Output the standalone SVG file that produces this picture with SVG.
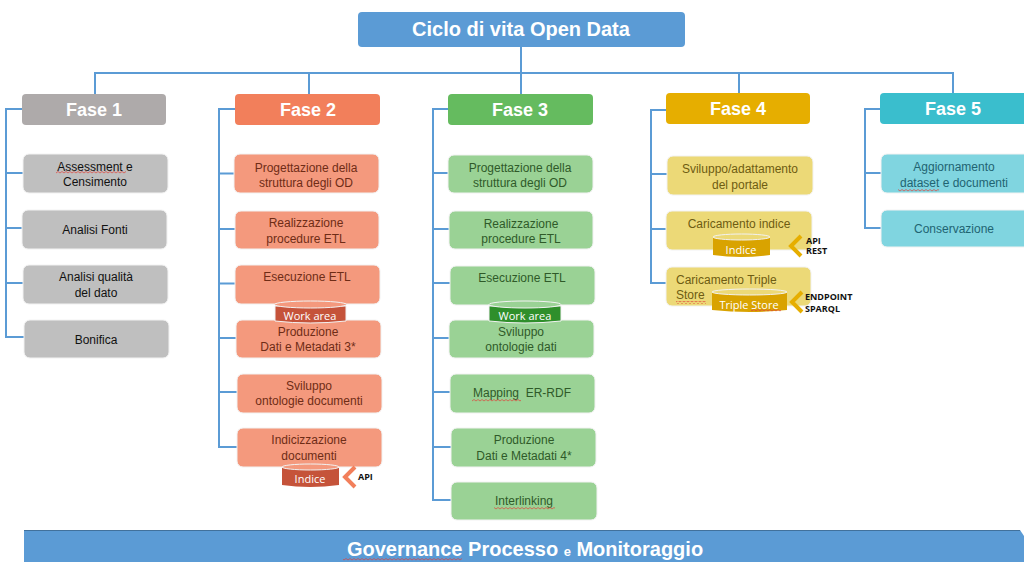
<svg xmlns="http://www.w3.org/2000/svg" width="1024" height="562" viewBox="0 0 1024 562">
<style>
text{font-family:"Liberation Sans",Arial,sans-serif;text-anchor:middle}
.conn{fill:none;stroke:#5b9bd5;stroke-width:2}
.ph{font-size:18px;font-weight:bold;fill:#fff}
.c{font-size:12px}
.b{stroke:#f2f2f2;stroke-width:1}
.g{fill:#bfbfbf}.gt{fill:#111}
.o{fill:#f4997d}.ot{fill:#6f2c16}
.n{fill:#9ad295}.nt{fill:#2f5a29}
.y{fill:#ecd977}.yt{fill:#6e5c12}
.t{fill:#80d5e0}.tt{fill:#1f6472}
.cyl{font-size:11px;fill:#fff;font-family:"Open Sans",sans-serif}
.lab{font-size:9px;font-weight:bold;fill:#111;font-family:"Open Sans",sans-serif;text-anchor:start}
.chev{fill:none;stroke-width:4}
</style>
<defs>
<pattern id="sq" width="4" height="3" patternUnits="userSpaceOnUse"><path d="M0 2L2 .5L4 2" fill="none" stroke="#e0403a" stroke-width=".7"/></pattern>
</defs>
<g id="connectors" class="conn">
<path d="M521 47V73M95 94V73H953V93M309 73V94M521 73V94M739 73V93"/>
<path d="M22 109H6V337H24M6 173H23M6 228H22M6 283H23"/>
<path d="M235 109H219V447H237M219 173.500H234M219 229H235M219 283.500H235M219 338H236M219 392H237"/>
<path d="M448 109H433V500H451M433 173H448M433 229H449M433 283H450M433 338H449M433 392H450M433 447H451"/>
<path d="M666 110H651V283H666M651 174H667M651 229H666"/>
<path d="M880 109H865V228H881M865 173H881"/>
</g>
<g id="title"><rect x="358" y="12" width="327" height="35" rx="4" fill="#5b9bd5"/><text x="521" y="36" font-size="20" font-weight="bold" fill="#fff">Ciclo di vita Open Data</text></g>
<g id="fase1"><rect x="22" y="94" width="144" height="31" rx="4" fill="#aeaaaa"/><text class="ph" x="94" y="116">Fase 1</text></g>
<g id="fase2"><rect x="235" y="94" width="145" height="31" rx="4" fill="#f27f5b"/><text class="ph" x="308" y="116">Fase 2</text></g>
<g id="fase3"><rect x="448" y="94" width="145" height="31" rx="4" fill="#65bb5f"/><text class="ph" x="520" y="116">Fase 3</text></g>
<g id="fase4"><rect x="666" y="93" width="144" height="31" rx="4" fill="#e6ae00"/><text class="ph" x="738" y="115">Fase 4</text></g>
<g id="fase5"><rect x="880" y="93" width="150" height="31" rx="4" fill="#3abecd"/><text class="ph" x="953" y="115">Fase 5</text></g>

<g id="f1-assessment"><rect class="g b" x="23" y="154" width="145" height="39" rx="6"/><text class="c gt"><tspan x="95" y="171">Assessment e</tspan><tspan x="95" y="186">Censimento</tspan></text><rect x="56" y="171" width="70" height="3" fill="url(#sq)"/></g>
<g id="f1-fonti"><rect class="g b" x="22" y="210" width="145" height="39" rx="6"/><text class="c gt" x="95" y="234">Analisi Fonti</text></g>
<g id="f1-qualita"><rect class="g b" x="23" y="265" width="145" height="39" rx="6"/><text class="c gt"><tspan x="96" y="281">Analisi qualità</tspan><tspan x="96" y="297">del dato</tspan></text></g>
<g id="f1-bonifica"><rect class="g b" x="24" y="320" width="145" height="38" rx="6"/><text class="c gt" x="96" y="344">Bonifica</text></g>

<g id="f2-progettazione"><rect class="o b" x="234" y="154" width="145" height="39" rx="6"/><text class="c ot"><tspan x="306" y="172">Progettazione della</tspan><tspan x="306" y="187">struttura degli OD</tspan></text></g>
<g id="f2-realizzazione"><rect class="o b" x="235" y="211" width="144" height="38" rx="6"/><text class="c ot"><tspan x="306" y="227">Realizzazione</tspan><tspan x="306" y="243">procedure ETL</tspan></text></g>
<g id="f2-esecuzione"><rect class="o b" x="235" y="265" width="145" height="39" rx="6"/><text class="c ot" x="307" y="281">Esecuzione ETL</text></g>
<g id="f2-produzione"><rect class="o b" x="236" y="320" width="145" height="38" rx="6"/><text class="c ot"><tspan x="308" y="336">Produzione</tspan><tspan x="308" y="351">Dati e Metadati 3*</tspan></text></g>
<g id="f2-sviluppo"><rect class="o b" x="237" y="374" width="145" height="39" rx="6"/><text class="c ot"><tspan x="309" y="390">Sviluppo</tspan><tspan x="309" y="405">ontologie documenti</tspan></text></g>
<g id="f2-indicizzazione"><rect class="o b" x="237" y="428" width="145" height="39" rx="6"/><text class="c ot"><tspan x="309" y="444">Indicizzazione</tspan><tspan x="309" y="460">documenti</tspan></text></g>
<g id="f2-workarea"><path d="M275 306V321Q310 325 346 321V306Z" fill="#c5533a" stroke="#f2f2f2"/><ellipse cx="310.500" cy="304.500" rx="36" ry="3.500" fill="#f4997d" stroke="#f2f2f2"/><text class="cyl" x="310" y="320">Work area</text></g>
<g id="f2-indice"><path d="M282 468V485Q310 489 339 485V468Z" fill="#c5533a"/><ellipse cx="310.500" cy="467" rx="28.500" ry="3" fill="#f4997d" stroke="#f2f2f2"/><text class="cyl" x="310" y="483">Indice</text></g>
<path id="f2-chev" class="chev" d="M355 467L345 477L355 487" stroke="#f27f5b"/>
<text id="f2-api" class="lab" x="358" y="480">API</text>

<g id="f3-progettazione"><rect class="n b" x="448" y="155" width="145" height="38" rx="6"/><text class="c nt"><tspan x="520" y="172">Progettazione della</tspan><tspan x="520" y="187">struttura degli OD</tspan></text></g>
<g id="f3-realizzazione"><rect class="n b" x="449" y="211" width="144" height="38" rx="6"/><text class="c nt"><tspan x="521" y="228">Realizzazione</tspan><tspan x="521" y="243">procedure ETL</tspan></text></g>
<g id="f3-esecuzione"><rect class="n b" x="450" y="266" width="145" height="39" rx="6"/><text class="c nt" x="522" y="282">Esecuzione ETL</text></g>
<g id="f3-sviluppo"><rect class="n b" x="449" y="320" width="145" height="38" rx="6"/><text class="c nt"><tspan x="521" y="336">Sviluppo</tspan><tspan x="521" y="351">ontologie dati</tspan></text></g>
<g id="f3-mapping"><rect class="n b" x="450" y="374" width="145" height="39" rx="6"/><text class="c nt" x="522" y="397" xml:space="preserve">Mapping  ER-RDF</text><rect x="472" y="399" width="49" height="3" fill="url(#sq)"/></g>
<g id="f3-produzione"><rect class="n b" x="451" y="428" width="145" height="39" rx="6"/><text class="c nt"><tspan x="524" y="444">Produzione</tspan><tspan x="524" y="460">Dati e Metadati 4*</tspan></text></g>
<g id="f3-interlinking"><rect class="n b" x="451" y="482" width="146" height="38" rx="6"/><text class="c nt" x="524" y="505">Interlinking</text><rect x="494" y="507" width="61" height="3" fill="url(#sq)"/></g>
<g id="f3-workarea"><path d="M489 306V321Q525 325 561 321V306Z" fill="#2f8f2b" stroke="#f2f2f2"/><ellipse cx="525" cy="304.500" rx="36" ry="3.500" fill="#9ad295" stroke="#f2f2f2"/><text class="cyl" x="525" y="320">Work area</text></g>

<g id="f4-sviluppo"><rect class="y b" x="667" y="156" width="146" height="39" rx="6"/><text class="c yt"><tspan x="740" y="173">Sviluppo/adattamento</tspan><tspan x="740" y="189">del portale</tspan></text></g>
<g id="f4-indice"><rect class="y b" x="666" y="211" width="146" height="39" rx="6"/><text class="c yt" x="739" y="228">Caricamento indice</text></g>
<g id="f4-triple"><rect class="y b" x="666" y="267" width="145" height="39" rx="6"/><text class="c yt"><tspan x="676" y="284" style="text-anchor:start">Caricamento Triple</tspan><tspan x="676" y="299" style="text-anchor:start">Store</tspan></text><rect x="676" y="301" width="30" height="3" fill="url(#sq)"/></g>
<g id="f4-cyl-indice"><path d="M713 238V255Q741 259 770 255V238Z" fill="#d9a300"/><ellipse cx="741.500" cy="237" rx="28.500" ry="3" fill="#ecd977" stroke="#f2f2f2"/><text class="cyl" x="741" y="254">Indice</text></g>
<g id="f4-cyl-triple"><path d="M712 293V310Q750 314 787 310V293Z" fill="#d9a300"/><ellipse cx="749.500" cy="292" rx="37.500" ry="3" fill="#ecd977" stroke="#f2f2f2"/><text class="cyl" x="749" y="309">Triple Store</text><rect x="751" y="309" width="30" height="3" fill="url(#sq)"/></g>
<path id="f4-chev1" class="chev" d="M801 236L791 246L801 256" stroke="#e6ae00"/>
<text id="f4-api" class="lab"><tspan x="806" y="244">API</tspan><tspan x="806" y="254">REST</tspan></text>
<path id="f4-chev2" class="chev" d="M802 292L792 302L802 312" stroke="#e6ae00"/>
<text id="f4-endpoint" class="lab"><tspan x="805" y="300">ENDPOINT</tspan><tspan x="805" y="312">SPARQL</tspan></text>

<g id="f5-aggiornamento"><rect class="t b" x="881" y="154" width="150" height="39" rx="6"/><text class="c tt"><tspan x="954" y="171">Aggiornamento</tspan><tspan x="954" y="187">dataset e documenti</tspan></text><rect x="898" y="189" width="41" height="3" fill="url(#sq)"/></g>
<g id="f5-conservazione"><rect class="t b" x="881" y="210" width="150" height="37" rx="6"/><text class="c tt" x="954" y="233">Conservazione</text></g>

<g id="governance"><path d="M24 530H1020L1024 536V562H24Z" fill="#5b9bd5"/><path d="M24 530.500H1020" stroke="#41719c" fill="none"/>
<text x="525" y="556" font-size="20" font-weight="bold" fill="#fff">Governance Processo <tspan font-size="13">e</tspan> Monitoraggio</text><rect x="343" y="558" width="119" height="3" fill="url(#sq)"/></g>
</svg>
